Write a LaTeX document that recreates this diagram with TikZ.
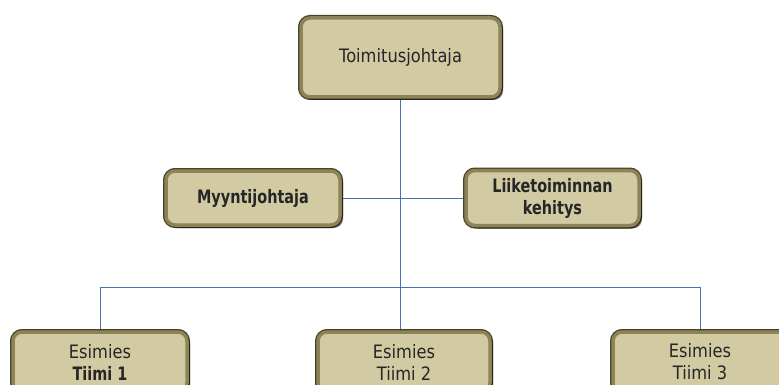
\documentclass[tikz,border=0pt]{standalone}
\usepackage{fontspec}
\setmainfont{DejaVu Sans}[FakeStretch=0.88, BoldFeatures={FakeStretch=0.78}]
\usetikzlibrary{shadows,backgrounds}
\definecolor{boxfill}{RGB}{209,202,162}
\definecolor{boxrim}{RGB}{72,67,36}
\definecolor{boxbevel}{RGB}{140,132,88}
\definecolor{linkblue}{RGB}{74,112,186}
\tikzset{
  orgbox/.style={
    rounded corners=9pt, fill=boxfill,
    preaction={draw=boxrim, line width=6pt},
    draw=boxbevel, line width=3.5pt,
    drop shadow={shadow xshift=3pt, shadow yshift=-3pt, opacity=0.45, fill=black},
    align=center, inner sep=0pt,
    font=\fontsize{18.5}{22}\selectfont, text=black!85},
  link/.style={draw=linkblue, line width=0.9pt}
}
\begin{document}
\begin{tikzpicture}[x=1pt, y=-1pt]
  \useasboundingbox (0,0) rectangle (779,385);
  \clip (0,0) rectangle (779,385);

  % top level
  \node[orgbox, minimum width=199pt, minimum height=79pt] (ceo) at (400.5,57.5) {Toimitusjohtaja};

  % staff level
  \node[orgbox, minimum width=174pt, minimum height=54pt] (sales) at (253,198) {\bfseries Myyntijohtaja};
  \node[orgbox, minimum width=173pt, minimum height=55pt] (biz) at (552.5,198) {\bfseries Liiketoiminnan\\\bfseries kehitys};

  % team leaders
  \node[orgbox, minimum width=174pt, minimum height=60pt] (t1) at (100,362) {Esimies\\\bfseries Tiimi 1};
  \node[orgbox, minimum width=172pt, minimum height=60pt] (t2) at (404,362) {Esimies\\Tiimi 2};
  \node[orgbox, minimum width=174pt, minimum height=60pt] (t3) at (700,362) {Esimies\\Tiimi 3};

  \coordinate (bus) at (400,287);

  % connectors run behind the boxes
  \begin{scope}[on background layer]
    \fill[white] (0,0) rectangle (779,385);
    \draw[link] (ceo.south) -- (ceo.south |- t2.north);
    \draw[link] (sales.east) -- (biz.west);
    \draw[link] (t1.north) -- (t1.north |- bus) -- (t3.north |- bus) -- (t3.north);
  \end{scope}
\end{tikzpicture}
\end{document}
